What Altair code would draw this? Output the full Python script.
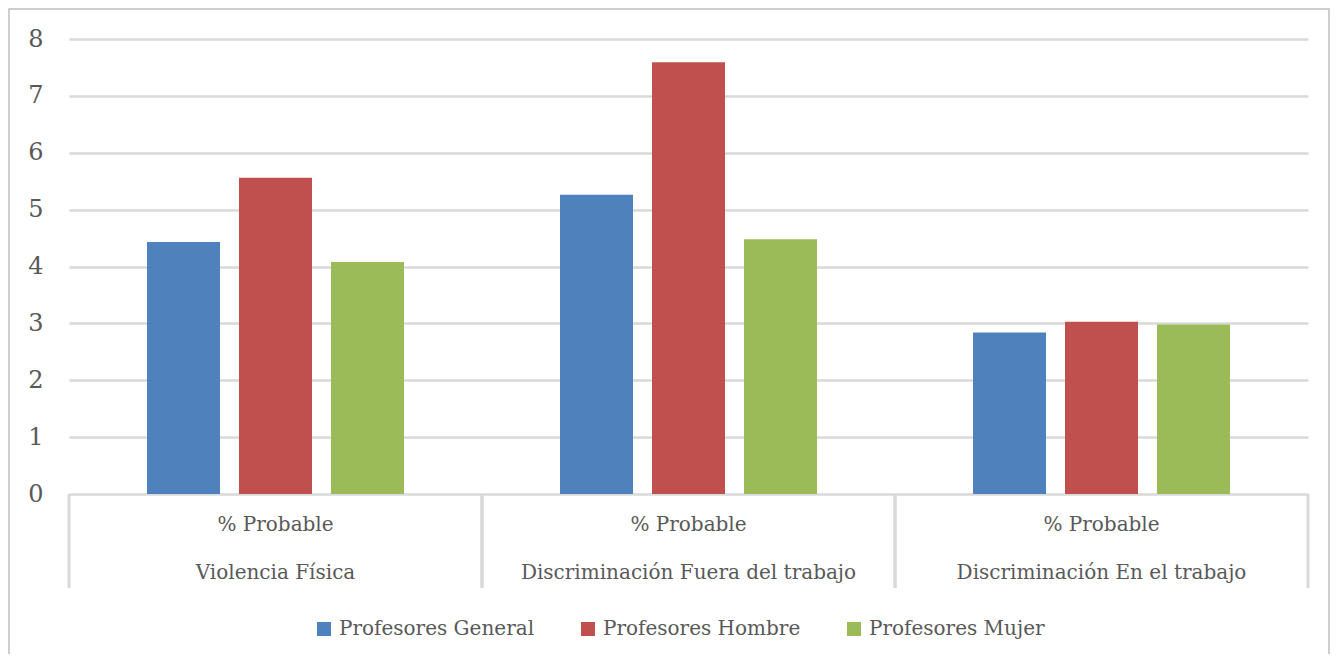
import altair as alt
import pandas as pd

categories = ["Violencia Física", "Discriminación Fuera del trabajo", "Discriminación En el trabajo"]
series = ["Profesores General", "Profesores Hombre", "Profesores Mujer"]
general = [4.43, 5.26, 2.84]
hombre = [5.56, 7.59, 3.03]
mujer = [4.08, 4.48, 2.98]
sublabel = "% Probable"
colors = ["#4F81BD", "#C0504D", "#9BBB59"]
y_ticks = [0, 1, 2, 3, 4, 5, 6, 7, 8]

rows = []
for s, vals in zip(series, [general, hombre, mujer]):
    for c, v in zip(categories, vals):
        rows.append({"cat": c, "serie": s, "valor": v})
df = pd.DataFrame(rows)
cat_df = pd.DataFrame({"cat": categories, "sub": [sublabel] * len(categories)})

W, H = 1239, 455
FONT = "DejaVu Serif"
FS = 20
TXT = "#595959"
GRID = "#D9D9D9"

xscale = alt.Scale(paddingInner=0, paddingOuter=0)

bars = alt.Chart(df).mark_bar().encode(
    x=alt.X("cat:N", sort=categories, scale=xscale, axis=None),
    xOffset=alt.XOffset("serie:N", sort=series,
                        scale=alt.Scale(paddingInner=0.2065, paddingOuter=0.848)),
    y=alt.Y("valor:Q", scale=alt.Scale(domain=[0, 8], nice=False),
            axis=alt.Axis(values=y_ticks, grid=True, gridColor=GRID, gridWidth=2.5,
                          domain=False, ticks=False, labelFont=FONT, labelFontSize=24,
                          labelColor=TXT, labelPadding=26, title=None)),
    color=alt.Color("serie:N", sort=series,
                    scale=alt.Scale(domain=series, range=colors),
                    legend=alt.Legend(title=None, orient="none", direction="horizontal",
                                      legendX=245, legendY=580, symbolType="square",
                                      symbolSize=196, symbolStrokeWidth=0,
                                      labelFont=FONT, labelFontSize=FS, labelColor=TXT,
                                      labelOffset=5, columnPadding=43,
                                      labelLimit=400)),
)

div_start = alt.Chart(cat_df).mark_rule(color=GRID, strokeWidth=3).encode(
    x=alt.X("cat:N", sort=categories, bandPosition=0),
    y=alt.value(H), y2=alt.value(H + 94),
)
div_end = alt.Chart(cat_df).mark_rule(color=GRID, strokeWidth=3).encode(
    x=alt.X("cat:N", sort=categories, bandPosition=1),
    y=alt.value(H), y2=alt.value(H + 94),
)

sub_text = alt.Chart(cat_df).mark_text(font=FONT, fontSize=FS, color=TXT, baseline="middle").encode(
    x=alt.X("cat:N", sort=categories, bandPosition=0.5),
    y=alt.value(H + 31),
    text="sub:N",
)
cat_text = alt.Chart(cat_df).mark_text(font=FONT, fontSize=FS, color=TXT, baseline="middle").encode(
    x=alt.X("cat:N", sort=categories, bandPosition=0.5),
    y=alt.value(H + 79),
    text="cat:N",
)

border = alt.Chart(pd.DataFrame({"k": [0]})).mark_rect(
    fill="transparent", stroke="#BFBFBF", strokeWidth=1.5
).encode(
    x=alt.value(-60), x2=alt.value(W + 21), y=alt.value(-30), y2=alt.value(H + 200)
)

chart = alt.layer(border, bars, div_start, div_end, sub_text, cat_text).properties(
    width=W, height=H,
    autosize=alt.AutoSizeParams(type="none"),
    padding={"left": 61, "top": 31, "right": 22, "bottom": 160},
).configure_view(stroke=None)

chart.save("out.html", embed_options={"renderer": "svg", "actions": False})
